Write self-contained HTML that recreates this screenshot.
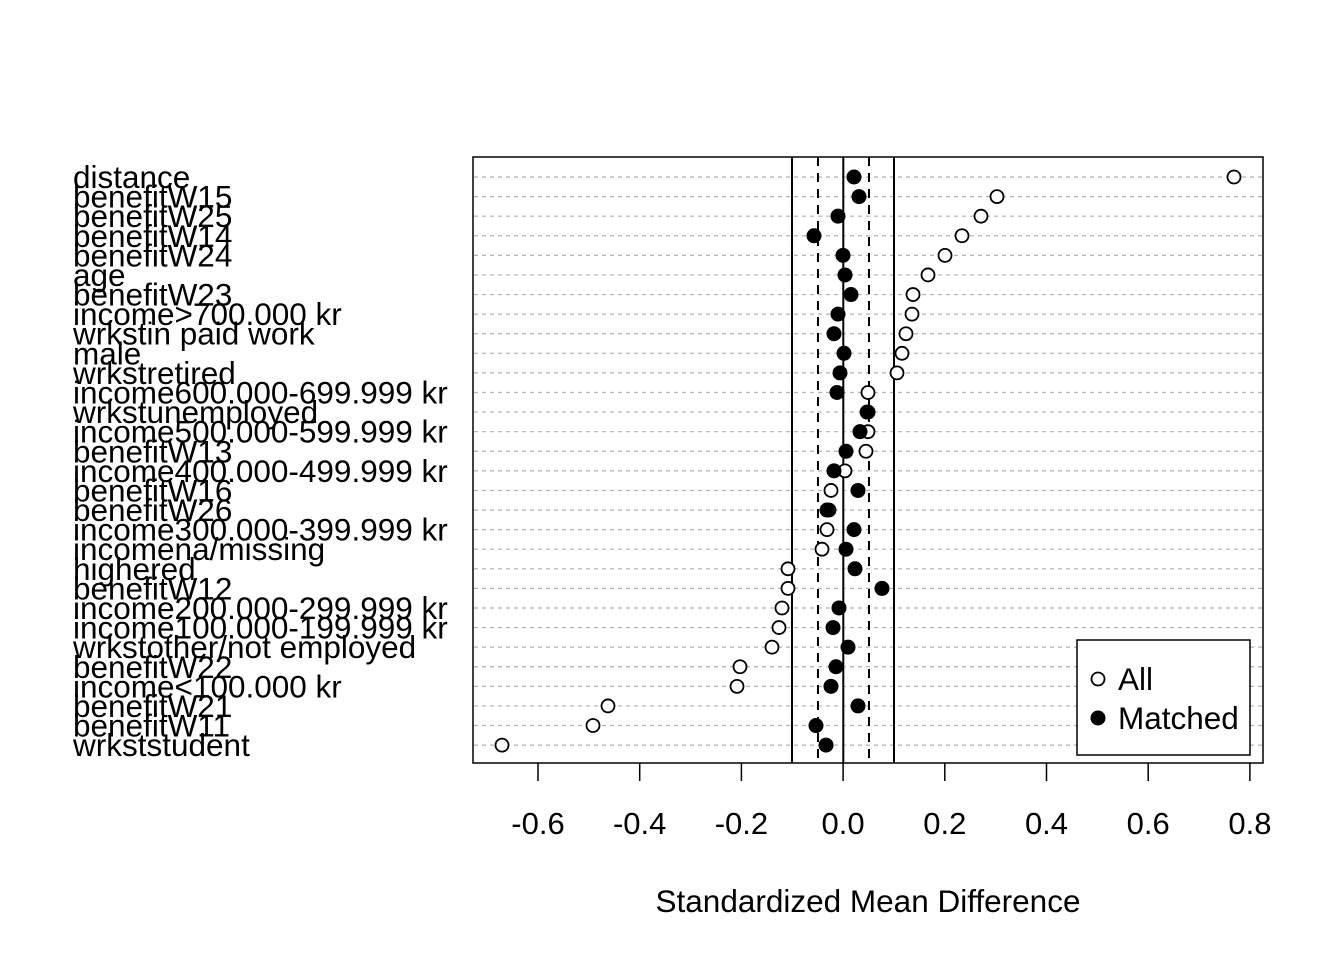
<!DOCTYPE html>
<html><head><meta charset="utf-8"><style>body{margin:0;background:#fff}svg{display:block}text{font-family:"Liberation Sans",Arial,sans-serif;fill:#000}</style></head>
<body>
<svg width="1344" height="960" xmlns="http://www.w3.org/2000/svg">
<g id="grid" stroke="#b3b3b3" stroke-dasharray="4,4" stroke-width="1.2"></g>
<rect x="473" y="157" width="790" height="606" fill="none" stroke="#000" stroke-width="1.5"/>
<g stroke="#000" stroke-width="2">
<line x1="792" y1="157" x2="792" y2="763"/>
<line x1="843.3" y1="157" x2="843.3" y2="763"/>
<line x1="894" y1="157" x2="894" y2="763"/>
<line x1="818" y1="157" x2="818" y2="763" stroke-dasharray="9,7"/>
<line x1="869" y1="157" x2="869" y2="763" stroke-dasharray="9,7"/>
</g>
<g id="ticks" stroke="#000" stroke-width="1.5"></g>
<g id="tl" font-size="31" text-anchor="middle"></g>
<g id="labels" font-size="31.5"></g>
<g id="pts"></g>
<text x="868" y="912" font-size="31.5" text-anchor="middle">Standardized Mean Difference</text>
<rect x="1077" y="640" width="173" height="115" fill="#fff" stroke="#000" stroke-width="1.5"/>
<circle cx="1098" cy="679" r="6.5" fill="#fff" stroke="#000" stroke-width="1.8"/>
<circle cx="1098" cy="718" r="7.5" fill="#000"/>
<text x="1118" y="690" font-size="31.5">All</text>
<text x="1118" y="729" font-size="31.5">Matched</text>
<script>
var d=[["distance",1234,854],["benefitW15",997,859],["benefitW25",981,838],["benefitW14",962,814],["benefitW24",945,843],["age",928,845],["benefitW23",913,851],["income>700.000 kr",912,838],["wrkstin paid work",906,834],["male",902,844],["wrkstretired",897,840],["income600.000-699.999 kr",868,837],["wrkstunemployed",867,868],["income500.000-599.999 kr",868,860],["benefitW13",866,846],["income400.000-499.999 kr",845,834],["benefitW16",831,858],["benefitW26",829,827],["income300.000-399.999 kr",827,854],["incomena/missing",822,846],["highered",788,855],["benefitW12",788,882],["income200.000-299.999 kr",782,839],["income100.000-199.999 kr",779,833],["wrkstother/not employed",772,848],["benefitW22",740,836],["income<100.000 kr",737,831],["benefitW21",608,858],["benefitW11",593,816],["wrkststudent",502,826]];
var ns="http://www.w3.org/2000/svg";
function el(p,t,a,txt){var e=document.createElementNS(ns,t);for(var k in a)e.setAttribute(k,a[k]);if(txt!=null)e.textContent=txt;document.getElementById(p).appendChild(e);}
d.forEach(function(r,i){var y=177+i*19.59;
el("grid","line",{x1:474,x2:1262,y1:y,y2:y});
el("labels","text",{x:73,y:y+11},r[0]);
el("pts","circle",{cx:r[1],cy:y,r:6.5,fill:"#fff",stroke:"#000","stroke-width":1.8});
el("pts","circle",{cx:r[2],cy:y,r:7.5,fill:"#000"});});
var tk=["-0.6","-0.4","-0.2","0.0","0.2","0.4","0.6","0.8"];
tk.forEach(function(t,i){var x=538+i*101.7;el("ticks","line",{x1:x,x2:x,y1:763,y2:781});el("tl","text",{x:x,y:834},t);});
</script>
</svg>
</body></html>
